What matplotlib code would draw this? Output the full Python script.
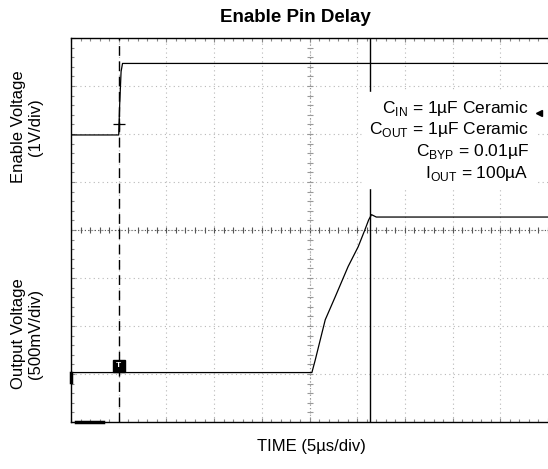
import numpy as np
import matplotlib.pyplot as plt

plt.rcParams['font.family'] = ['Liberation Sans', 'DejaVu Sans']

# time in divisions (5us/div), voltage in divisions from bottom of screen
en_t = [0.0, 1.0, 1.02, 1.05, 1.08, 10.0]
en_v = [5.98, 5.98, 6.6, 7.3, 7.47, 7.47]

out_t = [0.0, 5.05, 5.12, 5.33, 5.54, 5.81, 6.02, 6.16, 6.24, 6.30, 6.40, 10.0]
out_v = [1.03, 1.03, 1.29, 2.13, 2.61, 3.24, 3.65, 4.00, 4.21, 4.32, 4.27, 4.27]

notes = [r"C$_{\mathregular{IN}}$ = 1µF Ceramic",
         r"C$_{\mathregular{OUT}}$ = 1µF Ceramic",
         r"C$_{\mathregular{BYP}}$ = 0.01µF",
         r"I$_{\mathregular{OUT}}$ = 100µA"]

W, H = 548, 469
fig = plt.figure(figsize=(W / 100, H / 100), dpi=100)
x0, y0, x1, y1 = 71, 38, 548, 422
ax = fig.add_axes([x0 / W, 1 - y1 / H, (x1 - x0) / W, (y1 - y0) / H])
ax.set_xlim(0, (x1 - x0) / 48)
ax.set_ylim(0, 8)

# graticule
for gx in range(1, 10):
    ax.axvline(gx, color='#b8b8b8', lw=0.8, ls=(0, (1, 3)), zorder=1)
for gy in range(1, 8):
    ax.axhline(gy, color='#b8b8b8', lw=0.8, ls=(0, (1, 3)), zorder=1)
ax.axhline(4, color='#555555', lw=0.8, ls=(0, (1, 2)), zorder=1)
ax.axvline(5, color='#999999', lw=0.8, ls=(0, (1, 2)), zorder=1)
mt = np.arange(0, 10.01, 0.2)
ax.plot(mt, np.full(len(mt), 4.0), ls='none', marker='|', ms=4, color='#555555', mew=0.8, zorder=1)
mv = np.arange(0, 8.01, 0.2)
ax.plot(np.full(len(mv), 5.0), mv, ls='none', marker='_', ms=4, color='#999999', mew=0.8, zorder=1)

ax.set_xticks(np.arange(0, 10.01, 1))
ax.set_yticks(np.arange(0, 8.01, 1))
ax.set_xticks(np.arange(0, 10.01, 0.2), minor=True)
ax.set_yticks(np.arange(0, 8.01, 0.2), minor=True)
ax.tick_params(which='both', direction='in', top=True, right=False, labelbottom=False,
               labelleft=False, color='#888888', width=0.8)
ax.tick_params(which='major', length=3)
ax.tick_params(which='minor', length=2)
for s in ax.spines.values():
    s.set_linewidth(1.0)
ax.spines['right'].set_visible(False)

# cursors
ax.axvline(1.0, color='black', lw=1.0, ls=(0, (7, 4)), zorder=2)
ax.axvline(6.27, color='black', lw=1.0, zorder=2)

# traces
ax.plot(en_t, en_v, color='black', lw=0.9, zorder=4)
ax.plot(out_t, out_v, color='black', lw=0.9, zorder=4)

# scope markers
ax.plot([1.0], [6.2], marker='+', ms=8, color='black', mew=0.9, zorder=5)
ax.plot([1.0], [1.17], marker='s', ms=9, color='black', zorder=5)
ax.text(1.0, 1.17, 'T', color='white', fontsize=6, ha='center', va='center', fontweight='bold', zorder=6)
ax.plot([9.82], [6.44], marker='<', ms=5, color='black', zorder=5)
ax.plot([0.0, 0.0], [0.83, 1.03], color='black', lw=2.5, clip_on=False, zorder=5)
ax.plot([0.1, 0.67], [0.0, 0.0], color='black', lw=2.5, clip_on=False, zorder=5)

# annotation with white backing
ax.add_patch(plt.Rectangle((6.1, 4.87), 3.6, 2.0, color='white', zorder=3))
for i, s in enumerate(notes):
    ax.text(9.6, 6.54 - i * 0.455, s, fontsize=12.5, ha='right', va='center', zorder=6)

fig.text(295 / W, 1 - 17 / H, 'Enable Pin Delay', fontsize=13.5, fontweight='bold',
         ha='center', va='center')
fig.text(311 / W, 1 - 446 / H, 'TIME (5µs/div)', fontsize=12, ha='center', va='center')
fig.text(27 / W, 1 - 127 / H, 'Enable Voltage\n(1V/div)', fontsize=12, rotation=90,
         ha='center', va='center', linespacing=1.1)
fig.text(27 / W, 1 - 334 / H, 'Output Voltage\n(500mV/div)', fontsize=12, rotation=90,
         ha='center', va='center', linespacing=1.1)

fig.savefig('out.png', dpi=100, facecolor='white')
